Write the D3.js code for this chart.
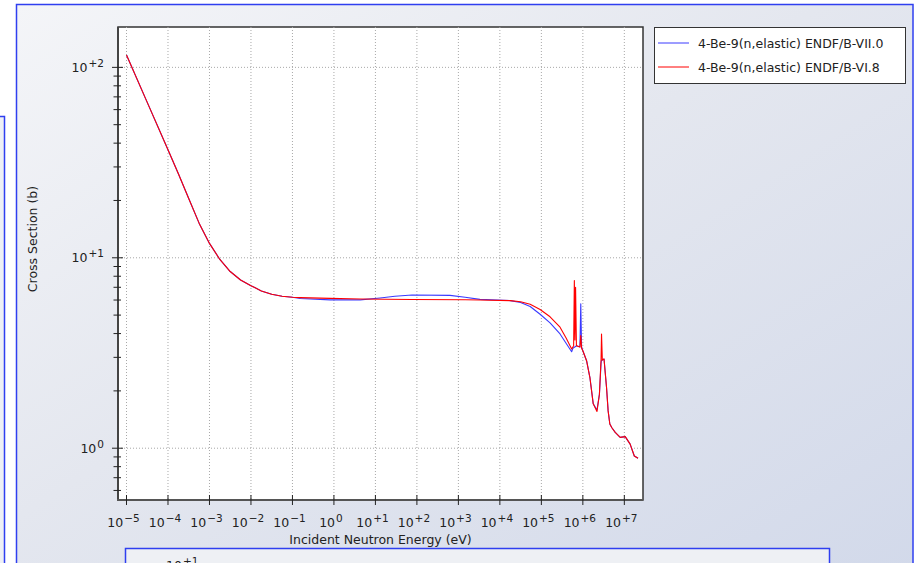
<!doctype html>
<html lang="en">
<head>
  <meta charset="utf-8">
  <title>4-Be-9 (n,elastic) cross section</title>
  <script src="https://d3js.org/d3.v7.min.js"></script>
  <style>
    html, body { margin: 0; padding: 0; background: #fff; }
    svg { display: block; font-family: "DejaVu Sans", sans-serif; }
    .tick-label { font-size: 12.5px; fill: #222; }
    .axis-title { font-size: 12.5px; fill: #222; }
    .legend-text { font-size: 12.5px; fill: #222; }
    .grid { stroke: #a8a8a8; stroke-width: 1; stroke-dasharray: 1,2; }
  </style>
</head>
<body>
<svg id="chart" width="916" height="563"></svg>
<script>
  // ENDF/B-VII.0 (blue)
  const energyVII = [1e-5, 3.16e-5, 1.0e-4, 1.78e-4, 3.16e-4, 5.62e-4, 1.0e-3, 1.78e-3, 3.16e-3,
    5.62e-3, 0.01, 0.0178, 0.0316, 0.0562, 0.1, 0.155, 0.81, 4.3, 12.9, 29.5, 76, 630,
    1450, 3300, 17800, 31600, 53700, 93300, 162000, 282000, 398000, 537000, 575000,
    708000, 851000, 891000, 933000, 1.0e6, 1.23e6, 1.48e6, 1.78e6, 2.19e6, 2.51e6,
    2.75e6, 2.82e6, 3.24e6, 3.72e6, 4.07e6, 4.47e6, 5.01e6, 6.03e6, 7.94e6, 1.05e7,
    1.38e7, 1.74e7, 2.14e7];
  const sigmaVII = [116, 65.5, 36.9, 27.6, 20.5, 15.2, 11.9, 9.8, 8.47,
    7.64, 7.14, 6.70, 6.43, 6.28, 6.2, 6.11, 6.01, 6.01, 6.15, 6.28, 6.38, 6.35,
    6.20, 6.05, 5.96, 5.82, 5.55, 5.05, 4.55, 3.98, 3.55, 3.21, 3.35,
    3.45, 3.40, 5.73, 3.40, 3.25, 2.88, 2.35, 1.71, 1.585, 1.92,
    2.80, 2.90, 2.94, 2.09, 1.57, 1.34, 1.28, 1.21, 1.14, 1.15,
    1.05, 0.91, 0.885];

  // ENDF/B-VI.8 (red)
  const energyVI = [1e-5, 3.16e-5, 1.0e-4, 1.78e-4, 3.16e-4, 5.62e-4, 1.0e-3, 1.78e-3, 3.16e-3,
    5.62e-3, 0.01, 0.0178, 0.0316, 0.0562, 0.1, 0.155, 0.81, 4.3, 76, 1450, 3300,
    17800, 31600, 53700, 93300, 162000, 282000, 398000, 537000, 600000, 624000,
    645000, 668000, 700000, 851000, 891000, 933000, 1.0e6, 1.23e6, 1.48e6, 1.78e6,
    2.19e6, 2.51e6, 2.75e6, 2.82e6, 2.95e6, 3.24e6, 3.72e6, 4.07e6, 4.47e6, 5.01e6,
    6.03e6, 7.94e6, 1.05e7, 1.38e7, 1.74e7, 2.14e7];
  const sigmaVI = [116, 65.5, 36.9, 27.6, 20.5, 15.2, 11.9, 9.8, 8.47,
    7.64, 7.14, 6.70, 6.43, 6.28, 6.2, 6.18, 6.12, 6.08, 6.04, 6.02, 6.00,
    5.96, 5.88, 5.70, 5.35, 4.90, 4.32, 3.78, 3.32, 3.45, 7.6,
    3.7, 7.0, 3.45, 3.40, 3.90, 3.35, 3.25, 2.88, 2.35, 1.71,
    1.56, 1.92, 2.94, 3.98, 2.90, 2.94, 2.09, 1.57, 1.34, 1.28,
    1.21, 1.14, 1.15, 1.05, 0.91, 0.885];

  const xDecades = [-5, -4, -3, -2, -1, 0, 1, 2, 3, 4, 5, 6, 7];
  const yDecades = [0, 1, 2];
  const seriesNames = ["4-Be-9(n,elastic) ENDF/B-VII.0", "4-Be-9(n,elastic) ENDF/B-VI.8"];
  const seriesColors = ["#3a3aff", "#ff0000"];

  const svg = d3.select("#chart");
  const plot = { left: 118, right: 643, top: 27, bottom: 500 };

  const x = d3.scaleLog()
    .domain([Math.pow(10, -5.205), Math.pow(10, 7.45)])
    .range([plot.left, plot.right]);
  const y = d3.scaleLog()
    .domain([Math.pow(10, -0.272), Math.pow(10, 2.212)])
    .range([plot.bottom, plot.top]);

  // backgrounds / panels
  const defs = svg.append("defs");
  const grad = defs.append("linearGradient").attr("id", "bg")
    .attr("x1", 0).attr("y1", 0).attr("x2", 1).attr("y2", 1);
  grad.append("stop").attr("offset", 0).attr("stop-color", "#f4f5f8");
  grad.append("stop").attr("offset", 0.45).attr("stop-color", "#e4e7ef");
  grad.append("stop").attr("offset", 1).attr("stop-color", "#d2d9ea");

  defs.append("clipPath").attr("id", "clip").append("rect")
    .attr("x", plot.left).attr("y", plot.top)
    .attr("width", plot.right - plot.left).attr("height", plot.bottom - plot.top);

  svg.append("rect").attr("x", -2).attr("y", 116.5).attr("width", 6.5).attr("height", 460)
    .attr("fill", "#eef0f5").attr("stroke", "#2f3ff0").attr("stroke-width", 1.5);

  svg.append("rect").attr("x", 16.5).attr("y", 4.5).attr("width", 896.5).attr("height", 570)
    .attr("fill", "url(#bg)").attr("stroke", "#2f3ff0").attr("stroke-width", 1.5);

  // plot area
  svg.append("rect")
    .attr("x", plot.left).attr("y", plot.top)
    .attr("width", plot.right - plot.left).attr("height", plot.bottom - plot.top)
    .attr("fill", "#fff").attr("stroke", "#333").attr("stroke-width", 1.5);

  // grid
  svg.append("g").selectAll("line").data(xDecades).join("line")
    .attr("class", "grid")
    .attr("x1", d => x(Math.pow(10, d))).attr("x2", d => x(Math.pow(10, d)))
    .attr("y1", plot.top).attr("y2", plot.bottom);
  svg.append("g").selectAll("line").data(yDecades).join("line")
    .attr("class", "grid")
    .attr("y1", d => y(Math.pow(10, d))).attr("y2", d => y(Math.pow(10, d)))
    .attr("x1", plot.left).attr("x2", plot.right);

  // data lines
  const line = d3.line().x(d => x(d[0])).y(d => y(d[1]));
  const series = [
    d3.zip(energyVII, sigmaVII),
    d3.zip(energyVI, sigmaVI)
  ];
  svg.append("g").attr("clip-path", "url(#clip)")
    .selectAll("path").data(series).join("path")
    .attr("d", line)
    .attr("fill", "none")
    .attr("stroke", (d, i) => seriesColors[i])
    .attr("stroke-width", 1.1)
    .attr("stroke-linejoin", "round");

  // axes lines
  svg.append("line").attr("x1", plot.left).attr("x2", plot.left)
    .attr("y1", plot.top).attr("y2", plot.bottom + 1)
    .attr("stroke", "#444").attr("stroke-width", 2);
  svg.append("line").attr("x1", plot.left - 1).attr("x2", plot.right)
    .attr("y1", plot.bottom).attr("y2", plot.bottom)
    .attr("stroke", "#555").attr("stroke-width", 2);

  // x ticks
  const xt = svg.append("g");
  xt.selectAll("line").data(xDecades).join("line")
    .attr("x1", d => x(Math.pow(10, d))).attr("x2", d => x(Math.pow(10, d)))
    .attr("y1", plot.bottom - 5).attr("y2", plot.bottom + 5)
    .attr("stroke", "#222").attr("stroke-width", 1);

  function expText(d) {
    if (d > 0) return "+" + d;
    if (d < 0) return "\u2212" + (-d);
    return "0";
  }

  xt.selectAll("text").data(xDecades).join("text")
    .attr("class", "tick-label")
    .attr("x", d => x(Math.pow(10, d)) - 3)
    .attr("y", plot.bottom + 26.5)
    .attr("text-anchor", "middle")
    .each(function(d) {
      const t = d3.select(this);
      t.append("tspan").text("10");
      t.append("tspan").attr("dx", 1).attr("dy", -5)
        .style("font-size", "10.5px").text(expText(d));
    });

  // y ticks
  const yt = svg.append("g");
  const minorY = [];
  yDecades.concat([-1]).forEach(function(p) {
    for (let m = 2; m <= 9; m++) {
      const v = m * Math.pow(10, p);
      if (v > y.domain()[0] && v < y.domain()[1]) minorY.push(v);
    }
  });
  yt.selectAll("line.minor").data(minorY).join("line")
    .attr("class", "minor")
    .attr("x1", plot.left - 4.5).attr("x2", plot.left + 3)
    .attr("y1", d => y(d)).attr("y2", d => y(d))
    .attr("stroke", "#222").attr("stroke-width", 1);
  yt.selectAll("line.major").data(yDecades).join("line")
    .attr("class", "major")
    .attr("x1", plot.left - 6).attr("x2", plot.left + 5)
    .attr("y1", d => y(Math.pow(10, d))).attr("y2", d => y(Math.pow(10, d)))
    .attr("stroke", "#222").attr("stroke-width", 1);

  yt.selectAll("text").data(yDecades).join("text")
    .attr("class", "tick-label")
    .attr("x", 104)
    .attr("y", d => y(Math.pow(10, d)) + 4.5)
    .attr("text-anchor", "end")
    .each(function(d) {
      const t = d3.select(this);
      t.append("tspan").text("10");
      t.append("tspan").attr("dx", 1).attr("dy", -5)
        .style("font-size", "10.5px").text(expText(d));
    });

  // axis titles
  svg.append("text").attr("class", "axis-title")
    .attr("x", (plot.left + plot.right) / 2).attr("y", 544)
    .attr("text-anchor", "middle")
    .text("Incident Neutron Energy (eV)");
  svg.append("text").attr("class", "axis-title")
    .attr("transform", "translate(37,239) rotate(-90)")
    .attr("text-anchor", "middle")
    .text("Cross Section (b)");

  // legend
  const lg = svg.append("g");
  lg.append("rect").attr("x", 654.5).attr("y", 27.5).attr("width", 251).attr("height", 56)
    .attr("fill", "#fff").attr("stroke", "#333").attr("stroke-width", 1);
  const items = lg.selectAll("g.item").data(seriesNames).join("g")
    .attr("class", "item")
    .attr("transform", (d, i) => "translate(0," + (43 + i * 24) + ")");
  items.append("line").attr("x1", 658).attr("x2", 689)
    .attr("stroke", (d, i) => seriesColors[i]).attr("stroke-width", 1);
  items.append("text").attr("class", "legend-text")
    .attr("x", 698).attr("y", 4.5).text(d => d);

  // lower panel peeking in at the bottom
  svg.append("rect").attr("x", 125.5).attr("y", 548.5).attr("width", 704).attr("height", 30)
    .attr("fill", "#eef0f4").attr("stroke", "#2f3ff0").attr("stroke-width", 1.5);
  const peek = svg.append("text").attr("class", "tick-label").attr("x", 166).attr("y", 570);
  peek.append("tspan").text("10");
  peek.append("tspan").attr("dx", 1).attr("dy", -5).style("font-size", "10.5px").text("+1");
</script>
</body>
</html>
